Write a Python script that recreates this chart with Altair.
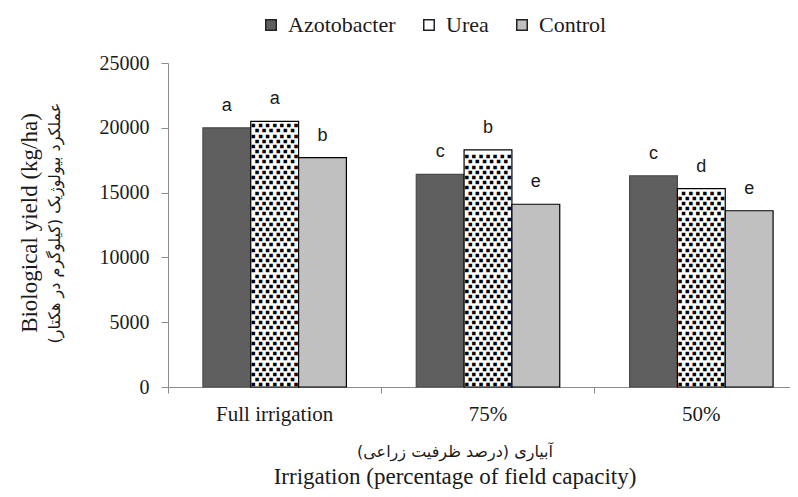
import altair as alt
import pandas as pd

# ---- data ----
categories = ["Full irrigation", "75%", "50%"]
series = ["Azotobacter", "Urea", "Control"]
azotobacter = [20000, 16400, 16300]
urea = [20500, 18300, 15300]
control = [17700, 14100, 13600]
letters_azotobacter = ["a", "c", "c"]
letters_urea = ["a", "b", "d"]
letters_control = ["b", "e", "e"]
y_ticks = [0, 5000, 10000, 15000, 20000, 25000]

y_title_en = "Biological  yield (kg/ha)"
y_title_fa = "عملکرد بیولوژیک (کیلوگرم در هکتار)"
x_title_fa = "آبیاری (درصد ظرفیت زراعی)"
x_title_en = "Irrigation (percentage of field capacity)"

rows = []
for s, vals, lets in [("Azotobacter", azotobacter, letters_azotobacter),
                      ("Urea", urea, letters_urea),
                      ("Control", control, letters_control)]:
    for c, v, l in zip(categories, vals, lets):
        rows.append({"irrigation": c, "series": s, "value": v, "letter": l})
df = pd.DataFrame(rows)

SERIF = "Liberation Serif"
TXT = "#1a1a1a"

x_scale = alt.Scale(domain=categories, paddingInner=0, paddingOuter=0, range=[0, 640])
xoff_scale = alt.Scale(domain=series, paddingInner=0, paddingOuter=0.73)
y_scale = alt.Scale(domain=[0, 25000], nice=False)

x_axis = alt.Axis(title=None, labelAngle=0, bandPosition=0, labelPadding=10, tickSize=6,
                  labelFontSize=21)
y_axis = alt.Axis(title=None, values=y_ticks, format="d", tickSize=7, labelPadding=12,
                  grid=False, labelFontSize=20)

def X():
    return alt.X("irrigation:N", sort=categories, scale=x_scale, axis=x_axis)

def XO():
    return alt.XOffset("series:N", sort=series, scale=xoff_scale)

base = alt.Chart(df)

bars = base.mark_bar(strokeWidth=1.2).encode(
    x=X(), xOffset=XO(),
    y=alt.Y("value:Q", scale=y_scale, axis=y_axis),
    color=alt.Color("series:N", sort=series,
                    scale=alt.Scale(domain=series, range=["#5f5f5f", "#ffffff", "#c0c0c0"]),
                    legend=alt.Legend(orient="none", legendX=92, legendY=-49, direction="horizontal",
                                      title=None, symbolType="square", symbolSize=110,
                                      symbolStrokeColor="#222222", symbolStrokeWidth=1.5,
                                      columnPadding=22, labelOffset=6)),
    stroke=alt.condition(alt.datum.series == "Azotobacter", alt.value("#4a4a4a"), alt.value("#000000")),
)

# dotted texture of the Urea bars (rows generated by Vega from each bar's value)
dots = base.transform_filter(alt.datum.series == "Urea").transform_calculate(
    row="sequence(200, datum.value - 180, 400)"
).transform_flatten(["row"]).transform_calculate(
    parity="floor(datum.row / 400) % 2",
    pat="datum.parity == 0 ? '■ ■ ■ ■ ■ ■ ■' : ' ■ ■ ■ ■ ■ ■ '"
).mark_text(font="DejaVu Sans Mono", fontSize=5.9, color="#000000", baseline="middle", align="center").encode(
    x=X(), xOffset=XO(),
    y=alt.Y("row:Q", scale=y_scale, axis=y_axis), text="pat:N"
)

letters = base.mark_text(font="Liberation Sans", fontSize=18, color=TXT, baseline="alphabetic", dy=-17).encode(
    x=X(), xOffset=XO(),
    y=alt.Y("value:Q", scale=y_scale, axis=y_axis), text="letter:N"
)

one = pd.DataFrame({"k": [0]})
t_y_en = alt.Chart(one).mark_text(font=SERIF, fontSize=23, color=TXT, angle=270, baseline="middle").encode(
    x=alt.value(-138), y=alt.value(160), text=alt.value(y_title_en))
t_y_fa = alt.Chart(one).mark_text(font="DejaVu Sans", fontSize=16, color=TXT, angle=270, baseline="middle").encode(
    x=alt.value(-113), y=alt.value(160), text=alt.value(y_title_fa))
t_x_fa = alt.Chart(one).mark_text(font="DejaVu Sans", fontSize=16, color=TXT, baseline="middle").encode(
    x=alt.value(287), y=alt.value(389), text=alt.value(x_title_fa))
t_x_en = alt.Chart(one).mark_text(font=SERIF, fontSize=23, color=TXT, baseline="middle").encode(
    x=alt.value(287), y=alt.value(414), text=alt.value(x_title_en))

chart = alt.layer(bars, dots, letters, t_y_en, t_y_fa, t_x_fa, t_x_en).properties(
    width=620, height=324,
    padding={"left": 160, "top": 55, "right": 2, "bottom": 102},
    autosize=alt.AutoSizeParams(type="none"),
    background="white",
).configure_view(stroke=None).configure_axis(
    labelFont=SERIF, labelColor=TXT, domainColor="#8c8c8c", tickColor="#8c8c8c", labelFlush=False,
).configure_legend(
    labelFont=SERIF, labelFontSize=22, labelColor=TXT,
)

chart.save("out.html", embed_options={"renderer": "svg", "actions": False})
